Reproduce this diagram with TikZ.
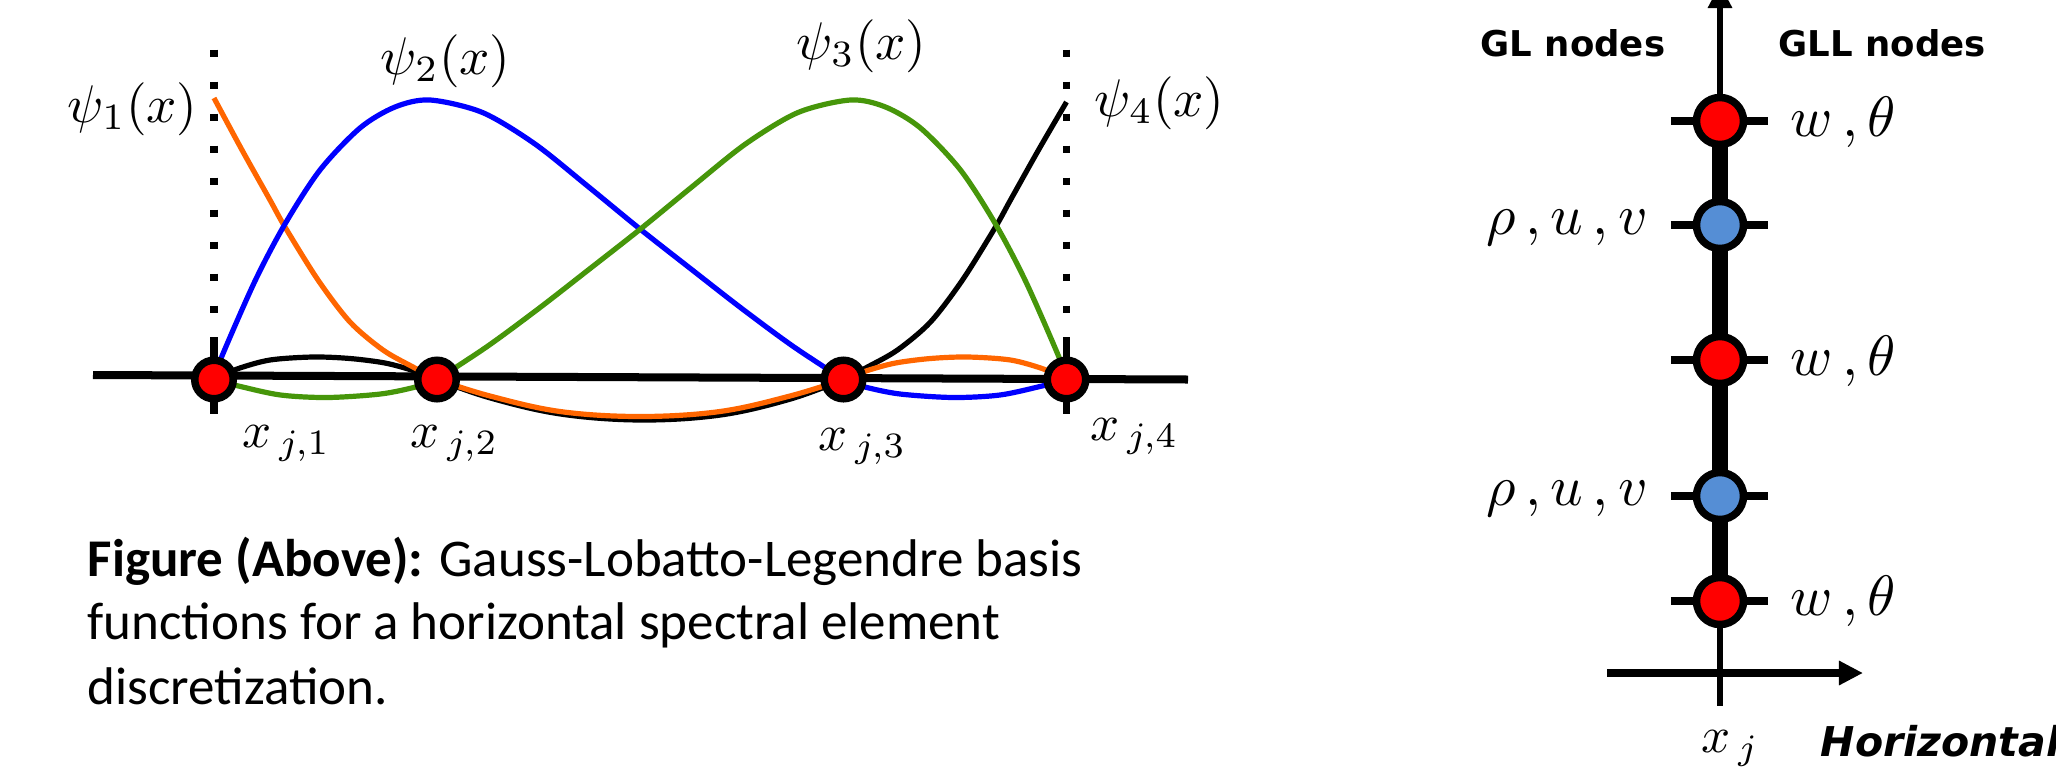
\documentclass[tikz,border=0pt]{standalone}
\usepackage[no-math]{fontspec}
\newfontfamily\capfont{Carlito}
\newfontfamily\djvfont{DejaVu Sans}
\usetikzlibrary{arrows.meta}
\pgfdeclarelayer{background}
\pgfsetlayers{background,main}
\definecolor{psiorange}{RGB}{255,102,0}
\definecolor{psiblue}{RGB}{0,0,255}
\definecolor{psigreen}{RGB}{70,150,10}
\definecolor{nodered}{RGB}{255,0,0}
\definecolor{nodeblue}{RGB}{85,142,213}
\newcommand{\psilab}[1]{\scalebox{1.508}{$#1$}}
\newcommand{\xlab}[1]{\scalebox{1.45}{$#1$}}
\newcommand{\varlab}[1]{\scalebox{1.62}{$#1$}}
\tikzset{
  psi/.style={line width=0.052cm},
  axisline/.style={line width=0.08cm},
  dotline/.style={line width=0.07cm, dash pattern=on 0.07cm off 0.25cm},
  tickline/.style={line width=0.07cm},
  rtick/.style={line width=0.08cm},
  gllnode/.style={circle, draw=black, fill=nodered, line width=0.075cm, minimum size=0.385cm, inner sep=0pt},
  vnode/.style={circle, draw=black, line width=0.075cm, minimum size=0.47cm, inner sep=0pt},
  lbl/.style={anchor=base west, inner sep=0pt, font=\fontsize{10}{12}\selectfont},
  capstyle/.style={font=\capfont\fontsize{15.08}{18}\selectfont},
  headfont/.style={font=\djvfont\bfseries\fontsize{10.1}{12}\selectfont},
  horfont/.style={font=\djvfont\bfseries\itshape\fontsize{11.67}{14}\selectfont},
  arrowtip/.style={-{Triangle[length=0.24cm,width=0.23cm]}},
}
\begin{document}
\begin{tikzpicture}[x=0.01cm, y=-0.01cm]
\useasboundingbox (0,0) rectangle (2056,769);
\clip (0,0) rectangle (2056,769);

% ---------- left: GLL basis functions ----------
\node[gllnode] (n1) at (214,379.5) {};
\node[gllnode] (n2) at (437,379.5) {};
\node[gllnode] (n3) at (843.5,379.5) {};
\node[gllnode] (n4) at (1066.5,379.5) {};
\coordinate (g1) at (214,49.5);
\coordinate (g4) at (1066.5,49.5);
\coordinate (axL) at (93,375);
\coordinate (axR) at (1188,379.5);

\begin{pgfonlayer}{background}
\draw[dotline] (g1) -- (n1.center);
\draw[dotline] (g4) -- (n4.center);
\draw[tickline] ([yshift=0.42cm]n1.center) -- ([yshift=-0.345cm]n1.center);
\draw[tickline] ([yshift=0.42cm]n4.center) -- ([yshift=-0.345cm]n4.center);
\draw[axisline] (axL) -- (axR);

% psi_4 (black)
\draw[psi, black] plot[smooth, tension=0.5] coordinates {(1066.5,102) (1038.5,150) (1010.5,200) (995.5,227) (962.5,280) (930.5,322) (897.5,350) (867.5,367) (843.5,379.5)};
\draw[psi, black] plot[smooth, tension=0.6] coordinates {(843.5,379.5) (790.5,399) (720.5,415) (640.5,420) (560.5,414) (490.5,398) (437,379.5)};
\draw[psi, black] plot[smooth, tension=0.5] coordinates {(437,379.5) (413,370.5) (385,363) (350,358.5) (313,357) (270,360) (237,369) (214,379.5)};

% psi_1 (orange)
\draw[psi, psiorange] plot[smooth, tension=0.5] coordinates {(214,98) (242,150) (270,200) (285,227) (318,280) (350,322) (383,350) (413,367) (437,379.5)};
\draw[psi, psiorange] plot[smooth, tension=0.6] coordinates {(437,379.5) (490,396) (560,411.5) (640,416.5) (720,411.5) (790,396) (843.5,379.5)};
\draw[psi, psiorange] plot[smooth, tension=0.5] coordinates {(843.5,379.5) (867.5,370.5) (895.5,363) (930.5,358.5) (967.5,357) (1010.5,360) (1043.5,369) (1066.5,379.5)};

% psi_2 (blue)
\draw[psi, psiblue] plot[smooth, tension=0.5] coordinates {(214,379.5) (222,356) (255,281) (285,224) (320,170) (360,128) (395,107) (430,100) (482.5,112.5) (535,144) (587.5,186) (640,229) (691,269) (741.75,308.5) (792.6,346) (843.5,379.5)};
\draw[psi, psiblue] plot[smooth, tension=0.5] coordinates {(843.5,379.5) (865,387) (900,394) (953,397.5) (1000,395) (1042,386) (1066.5,379.5)};

% psi_3 (green)
\draw[psi, psigreen] plot[smooth, tension=0.5] coordinates {(1066.5,379.5) (1058.5,356) (1025.5,281) (995.5,224) (960.5,170) (920.5,128) (885.5,107) (850.5,100) (798,112.5) (745.5,144) (693,186) (640.5,229) (589.5,269) (538.75,308.5) (487.9,346) (437,379.5)};
\draw[psi, psigreen] plot[smooth, tension=0.5] coordinates {(437,379.5) (415.5,387) (380.5,394) (327.5,397.5) (280.5,395) (238.5,386) (214,379.5)};
\end{pgfonlayer}

\node[lbl] (p1) at (67,122) {\psilab{\psi_1(x)}};
\node[lbl] (p2) at (380,74) {\psilab{\psi_2(x)}};
\node[lbl] (p3) at (796,59) {\psilab{\psi_3(x)}};
\node[lbl] (p4) at (1094,116) {\psilab{\psi_4(x)}};

\node[lbl] (x1) at (242,447) {\xlab{x_{\,j,1}}};
\node[lbl] (x2) at (410,447) {\xlab{x_{\,j,2}}};
\node[lbl] (x3) at (818,450) {\xlab{x_{\,j,3}}};
\node[lbl] (x4) at (1090,440) {\xlab{x_{\,j,4}}};

\node[lbl, capstyle] (c1) at (87,576) {\textbf{Figure (Above):} Gauss-Lobatto-Legendre basis};
\node[lbl, capstyle] (c2) at (87,639) {functions for a horizontal spectral element};
\node[lbl, capstyle] (c3) at (87,704) {discretization.};

% ---------- right: vertical column ----------
\node[vnode, fill=nodered]  (r1) at (1720,121) {};
\node[vnode, fill=nodeblue] (r2) at (1720,225) {};
\node[vnode, fill=nodered]  (r3) at (1720,360) {};
\node[vnode, fill=nodeblue] (r4) at (1720,496) {};
\node[vnode, fill=nodered]  (r5) at (1720,601) {};
\coordinate (vtop) at (1720,-16);
\coordinate (vbot) at (1720,706);
\coordinate (hL) at (1607,673);
\coordinate (hR) at (1863,673);

\begin{pgfonlayer}{background}
\draw[line width=0.065cm, arrowtip] (r1.center) -- (vtop);
\draw[line width=0.065cm] (r5.center) -- (vbot);
\draw[line width=0.16cm] (r1.center) -- (r5.center);
\foreach \r in {r1,r2,r3,r4,r5}{
  \draw[rtick] ([xshift=-0.49cm]\r.center) -- ([xshift=0.48cm]\r.center);
}
\draw[line width=0.08cm, arrowtip] (hL) -- (hR);
\end{pgfonlayer}

\node[lbl] (wt1) at (1790,136) {\varlab{w\,,\theta}};
\node[lbl] (wt3) at (1790,375) {\varlab{w\,,\theta}};
\node[lbl] (wt5) at (1790,615) {\varlab{w\,,\theta}};
\node[lbl] (ruv2) at (1486,234) {\varlab{\rho\,,u\,,v}};
\node[lbl] (ruv4) at (1486,505) {\varlab{\rho\,,u\,,v}};

\node[lbl, headfont] (gl) at (1480,56) {GL nodes};
\node[lbl, headfont] (gll) at (1778,56) {GLL nodes};
\node[lbl] (xj) at (1701,752) {\xlab{x_{\,j}}};
\node[lbl, horfont] (hor) at (1820,756) {Horizontal};
\end{tikzpicture}
\end{document}
